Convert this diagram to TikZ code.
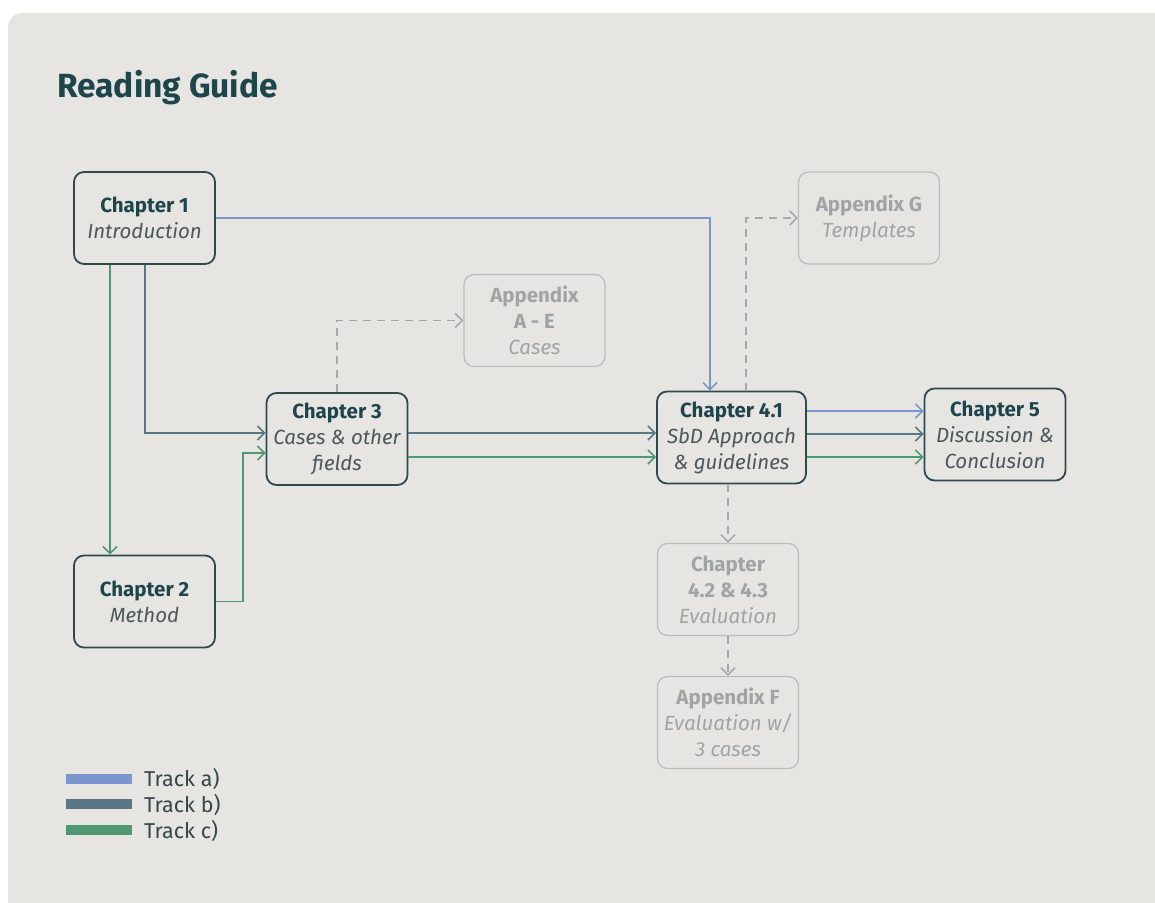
\documentclass[tikz,border=0pt]{standalone}
\usepackage{fontspec}
\setmainfont{Fira Sans}
\usetikzlibrary{arrows.meta}
\definecolor{panel}{HTML}{E6E5E2}
\definecolor{headc}{HTML}{1E454C}
\definecolor{boxline}{HTML}{2F4A4F}
\definecolor{subc}{HTML}{4C575C}
\definecolor{gline}{HTML}{BDBDBB}
\definecolor{gtext}{HTML}{A0A4A6}
\definecolor{tracka}{HTML}{7D95CF}
\definecolor{trackb}{HTML}{5A7884}
\definecolor{trackc}{HTML}{4F9872}
\definecolor{dashc}{HTML}{A8A8A8}
\definecolor{legtext}{HTML}{34474C}
\tikzset{
  box/.style={draw=boxline, line width=1.8pt, rounded corners=10pt,
    minimum width=141pt, minimum height=92pt, align=center, inner sep=0pt,
    font=\fontsize{20.5}{26}\selectfont, text=headc},
  gbox/.style={box, draw=gline, line width=1.3pt, text=gtext},
  tip/.style={-{Straight Barb[length=7pt,width=14pt,line width=1.6pt]}},
  ta/.style={tip, draw=tracka, line width=1.8pt},
  tb/.style={tip, draw=trackb, line width=1.8pt},
  tc/.style={tip, draw=trackc, line width=1.8pt},
  dsh/.style={tip, draw=dashc, line width=1.5pt, dash pattern=on 8pt off 6pt},
  legend/.style={anchor=west, text=legtext, font=\fontsize{21.5}{24}\selectfont, inner sep=0pt},
}
\newcommand{\sub}[1]{\textit{\color{subc}#1}}
\newcommand{\gsub}[1]{\textit{#1}}
\begin{document}
\begin{tikzpicture}[x=1pt,y=-1pt]
\useasboundingbox (0,0) rectangle (1155,902);
\fill[white] (0,0) rectangle (1155,902);
\fill[panel, rounded corners=14pt] (8,13) rectangle (1180,930);

% title
\node[anchor=base west, inner sep=0pt, text=headc, font=\fontsize{33.5}{40}\selectfont\bfseries] (title) at (57,97) {Reading Guide};

% chapters
\node[box] (c1) at (144.5,218) {\textbf{Chapter 1}\\\sub{Introduction}};
\node[box] (c2) at (144.5,601.5) {\textbf{Chapter 2}\\\sub{Method}};
\node[box] (c3) at (337,439) {\textbf{Chapter 3}\\\sub{Cases \& other}\\\sub{fields}};
\node[box, minimum width=149pt] (c41) at (731.5,437.5) {\textbf{Chapter 4.1}\\\sub{SbD Approach}\\\sub{\& guidelines}};
\node[box] (c5) at (995,434.5) {\textbf{Chapter 5}\\\sub{Discussion \&}\\\sub{Conclusion}};

% appendices and side chapters
\node[gbox] (ae) at (534.5,320.5) {\textbf{Appendix}\\\textbf{A - E}\\\gsub{Cases}};
\node[gbox] (ag) at (869,218) {\textbf{Appendix G}\\\gsub{Templates}};
\node[gbox] (c42) at (728,589.5) {\textbf{Chapter}\\\textbf{4.2 \& 4.3}\\\gsub{Evaluation}};
\node[gbox] (af) at (728,722.5) {\textbf{Appendix F}\\\gsub{Evaluation w/}\\\gsub{3 cases}};

% track levels
\coordinate (ya) at (0,411);
\coordinate (yb) at (0,433);
\coordinate (yb2) at (0,434);
\coordinate (yc) at (0,457);
\coordinate (kc) at (243,453);

% track a
\draw[ta] (c1.east) -| ([xshift=-21.5pt]c41.north);
\draw[ta] (c41.east |- ya) -- (c5.west |- ya);

% track b
\draw[tb] ([xshift=0.5pt]c1.south) |- (c3.west |- yb);
\draw[tb] (c3.east |- yb) -- (c41.west |- yb);
\draw[tb] (c41.east |- yb2) -- (c5.west |- yb2);

% track c
\draw[tc] ([xshift=-34.5pt]c1.south) -- ([xshift=-34.5pt]c2.north);
\draw[tc] (c2.east) -| (kc) -- (c3.west |- kc);
\draw[tc] (c3.east |- yc) -- (c41.west |- yc);
\draw[tc] (c41.east |- yc) -- (c5.west |- yc);

% optional reading
\draw[dsh] (c3.north) |- (ae.west);
\draw[dsh] ([xshift=14.5pt]c41.north) |- (ag.west);
\draw[dsh] (c41.south -| c42.north) -- (c42.north);
\draw[dsh] (c42.south) -- (af.north);

% legend
\fill[tracka] (66,774) rectangle (132,784);
\fill[trackb] (66,799) rectangle (132,809);
\fill[trackc] (66,825) rectangle (132,835);
\node[legend] (la) at (144,779) {Track a)};
\node[legend] (lb) at (144,805) {Track b)};
\node[legend] (lc) at (144,831) {Track c)};
\end{tikzpicture}
\end{document}
